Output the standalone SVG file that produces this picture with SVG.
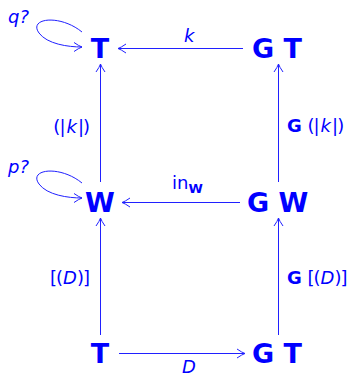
<svg xmlns="http://www.w3.org/2000/svg" width="349" height="376" viewBox="0 0 349 376">
<style>
.n{font-family:"DejaVu Sans",sans-serif;font-weight:bold;font-size:27px;fill:#0000ff}
.l{font-family:"DejaVu Sans",sans-serif;font-size:18px;fill:#0000ff}
.i{font-style:italic}
.b{font-weight:bold}
.c line,.c path{stroke:#2020ff;stroke-width:1;fill:none}
</style>
<defs>
<marker id="ah" markerWidth="12" markerHeight="12" refX="0" refY="0" viewBox="-10 -6 12 12" orient="auto" markerUnits="userSpaceOnUse">
<path d="M-8,-4.5 Q-3,-1 0,0 Q-3,1 -8,4.5" fill="none" stroke="#2020ff" stroke-width="1"/>
</marker>
</defs>
<g class="c" id="connectors">
<line x1="243" y1="48.5" x2="118" y2="48.5" marker-end="url(#ah)"/>
<line x1="278.5" y1="182" x2="278.5" y2="64" marker-end="url(#ah)"/>
<line x1="100.5" y1="182" x2="100.5" y2="64" marker-end="url(#ah)"/>
<line x1="240" y1="202.5" x2="122" y2="202.5" marker-end="url(#ah)"/>
<line x1="100.5" y1="335" x2="100.5" y2="218" marker-end="url(#ah)"/>
<line x1="278.5" y1="335" x2="278.5" y2="218" marker-end="url(#ah)"/>
<line x1="119" y1="353.5" x2="245" y2="353.5" marker-end="url(#ah)"/>
<path d="M82,32 C60,14 28,18 39,33 C47,44 68,47 82,47" marker-end="url(#ah)"/>
<path d="M82,183 C60,165 28,169 39,184 C47,195 68,198 82,198" marker-end="url(#ah)"/>
</g>
<g id="T1"><text class="n" x="100" y="58" text-anchor="middle">T</text></g>
<g id="GT1"><text class="n" x="252" y="58">G T</text></g>
<g id="W"><text class="n" x="100" y="212" text-anchor="middle">W</text></g>
<g id="GW"><text class="n" x="247" y="212">G W</text></g>
<g id="T2"><text class="n" x="100" y="363" text-anchor="middle">T</text></g>
<g id="GT2"><text class="n" x="252" y="363">G T</text></g>
<g id="labels">
<text class="l i" x="184" y="42" font-size="20">k</text>
<text class="l" x="90" y="133" text-anchor="end">(<tspan dx="-1">|</tspan><tspan class="i" dx="1">k</tspan><tspan dx="1">|</tspan><tspan dx="-1">)</tspan></text>
<text class="l" x="287" y="132"><tspan class="b">G</tspan> (<tspan dx="-1">|</tspan><tspan class="i" dx="1">k</tspan><tspan dx="1">|</tspan><tspan dx="-1">)</tspan></text>
<text class="l" x="172" y="189">in<tspan class="b" font-size="13" dy="4">W</tspan></text>
<text class="l i" x="8" y="23">q?</text>
<text class="l i" x="8" y="173">p?</text>
<text class="l" x="90" y="284" text-anchor="end">[<tspan dx="-1">(</tspan><tspan class="i">D</tspan>)<tspan dx="-1">]</tspan></text>
<text class="l" x="287" y="284"><tspan class="b">G</tspan> [<tspan dx="-1">(</tspan><tspan class="i">D</tspan>)<tspan dx="-1">]</tspan></text>
<text class="l i" x="182" y="373">D</text>
</g>
</svg>
